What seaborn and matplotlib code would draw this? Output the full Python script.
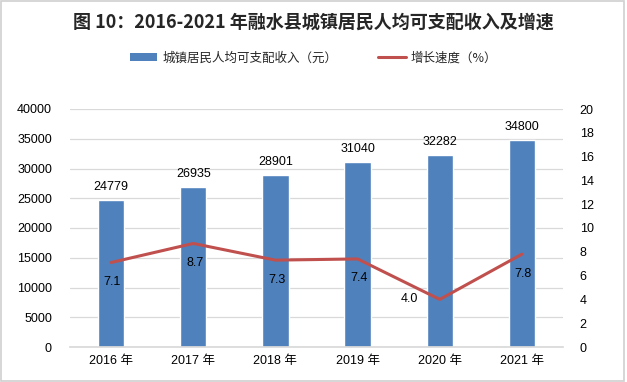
import matplotlib
matplotlib.use("Agg")
import matplotlib.pyplot as plt
import seaborn as sns
import pandas as pd
from matplotlib.patches import Patch, Rectangle
from matplotlib.lines import Line2D

years = ["2016 年", "2017 年", "2018 年", "2019 年", "2020 年", "2021 年"]
income = [24779, 26935, 28901, 31040, 32282, 34800]
growth = [7.1, 8.7, 7.3, 7.4, 4.0, 7.8]
title = "图 10：2016-2021 年融水县城镇居民人均可支配收入及增速"
bar_name = "城镇居民人均可支配收入（元）"
line_name = "增长速度（%）"

sns.set_theme(style="white")
FAM = ["Liberation Sans", "Noto Sans CJK SC", "DejaVu Sans"]
plt.rcParams["font.family"] = FAM

BLUE = "#4F81BD"
RED = "#C0504D"
GRID = "#D9D9D9"

df = pd.DataFrame({"year": years, "income": income, "growth": growth})

fig = plt.figure(figsize=(6.27, 3.82), dpi=100)
ax = fig.add_axes([70/627, 1-347/382, (563-70)/627, (347-109)/382])
ax2 = ax.twinx()

sns.barplot(data=df, x="year", y="income", color=BLUE, saturation=1, width=0.32, ax=ax, zorder=2)
sns.pointplot(data=df, x="year", y="growth", color=RED, markers="", linewidth=2.2, ax=ax2)

ax.set_ylim(0, 40000)
ax.set_yticks(range(0, 40001, 5000))
ax2.set_ylim(0, 20)
ax2.set_yticks(range(0, 21, 2))
ax.set_xlim(-0.5, 5.5)
ax.set_xlabel("")
ax.set_ylabel("")
ax2.set_ylabel("")
ax.yaxis.grid(True, color=GRID, linewidth=0.9, zorder=0)
ax.set_axisbelow(True)
for a in (ax, ax2):
    for s in a.spines.values():
        s.set_visible(False)
ax.spines["bottom"].set_visible(True)
ax.spines["bottom"].set_color(GRID)
ax.tick_params(axis="y", length=0, pad=13, labelsize=9, labelcolor="#000000")
ax2.tick_params(axis="y", length=0, pad=12, labelsize=9, labelcolor="#000000")
ax.tick_params(axis="x", length=0, pad=6, labelsize=9, labelcolor="#000000")

for c in ax.containers:
    ax.bar_label(c, labels=[str(v) for v in income], padding=5, fontsize=9, color="#000000")

for i, v in enumerate(growth):
    if i == 4:
        ax2.annotate(f"{v:.1f}", (i, v), xytext=(-22, 0), textcoords="offset points",
                     ha="center", va="center", fontsize=9, color="#000000")
    else:
        ax2.annotate(f"{v:.1f}", (i, v), xytext=(1, -14), textcoords="offset points",
                     ha="center", va="center", fontsize=9, color="#000000")

fig.text(0.5, 1-22/382, title, ha="center", va="center", fontsize=13, fontweight="bold",
         family=["Noto Sans CJK SC", "DejaVu Sans"])

handles = [Patch(facecolor=BLUE, edgecolor="none"),
           Line2D([0], [0], color=RED, linewidth=2.2)]
fig.legend(handles, [bar_name, line_name], loc="center", bbox_to_anchor=(0.5, 1-58/382),
           ncol=2, frameon=False, columnspacing=3.3, handlelength=2.2,
           handleheight=0.6, handletextpad=0.4,
           prop={"family": ["Noto Sans CJK SC", "DejaVu Sans"], "size": 9})

fig.patches.append(Rectangle((0.002, 0.003), 0.994, 0.994, transform=fig.transFigure,
                             fill=False, edgecolor="#D0D0D0", linewidth=1.2))

fig.savefig("out.png", dpi=100, facecolor="white")
